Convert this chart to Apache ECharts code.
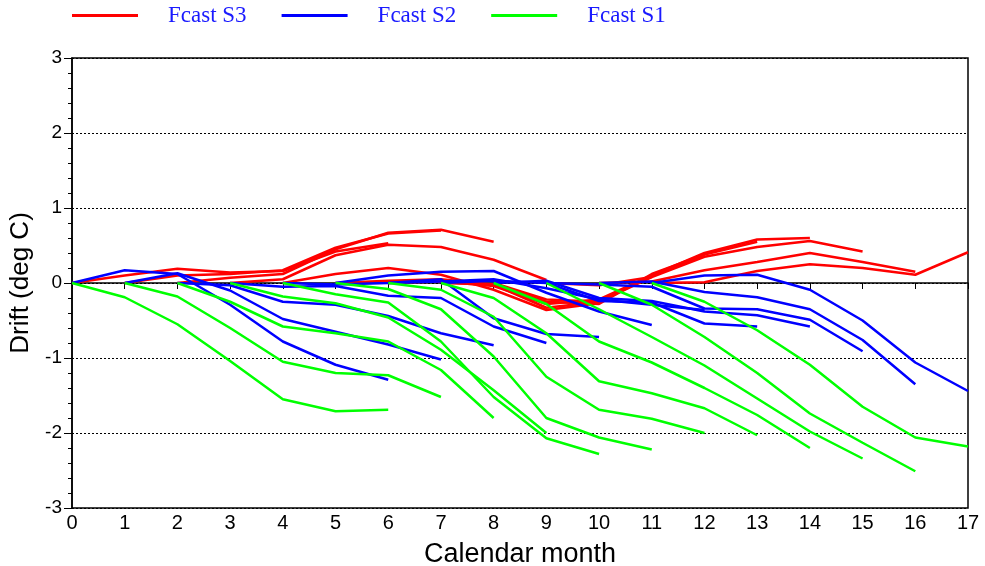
<!DOCTYPE html>
<html>
<head>
<meta charset="utf-8">
<script src="https://cdn.jsdelivr.net/npm/echarts@6/dist/echarts.min.js"></script>
<style>
  html, body { margin: 0; padding: 0; background: #fff; }
  #chart { width: 985px; height: 566px; }
</style>
</head>
<body>
<div id="chart"></div>
<script>
// Forecast start month of each run (each run covers 7 monthly points, lead 0..6)
const startMonths = [0, 1, 2, 3, 4, 5, 6, 7, 8, 9, 10, 11];

// Drift (deg C) by lead month for each forecast system
const driftS3 = [
  [0, 0.10, 0.19, 0.14, 0.16, 0.42, 0.53],
  [0, 0.10, 0.12, 0.17, 0.47, 0.66, 0.70],
  [0, 0.07, 0.12, 0.45, 0.67, 0.71, 0.55],
  [0, 0.05, 0.37, 0.51, 0.48, 0.31, 0.04],
  [0, 0.12, 0.20, 0.11, -0.09, -0.36, -0.27],
  [0, 0.03, 0.05, -0.02, -0.33, -0.25, 0.08],
  [0, 0.02, -0.04, -0.28, -0.22, 0.10, 0.38],
  [0, -0.02, -0.25, -0.28, 0.12, 0.38, 0.55],
  [0, -0.22, -0.25, 0.10, 0.40, 0.58, 0.60],
  [0, -0.03, 0.08, 0.35, 0.48, 0.56, 0.42],
  [0, 0.02, 0.17, 0.28, 0.40, 0.28, 0.15],
  [0, 0.01, 0.16, 0.25, 0.20, 0.11, 0.41]
];
const driftS2 = [
  [0, 0.17, 0.12, -0.29, -0.78, -1.09, -1.29],
  [0, 0.13, -0.10, -0.48, -0.65, -0.82, -1.02],
  [0, -0.03, -0.25, -0.29, -0.44, -0.67, -0.83],
  [0, -0.05, -0.04, -0.17, -0.20, -0.58, -0.80],
  [0, -0.02, 0.00, 0.05, -0.47, -0.68, -0.72],
  [0, 0.10, 0.15, 0.16, -0.13, -0.38, -0.56],
  [0, 0.02, 0.05, -0.07, -0.22, -0.29, -0.36],
  [0, 0.03, 0.00, -0.24, -0.26, -0.54, -0.58],
  [0, 0.03, -0.20, -0.24, -0.38, -0.43, -0.58],
  [0, -0.02, -0.05, -0.34, -0.35, -0.49, -0.91],
  [0, 0.02, -0.12, -0.19, -0.35, -0.76, -1.35],
  [0, 0.10, 0.11, -0.09, -0.50, -1.06, -1.44]
];
const driftS1 = [
  [0, -0.19, -0.55, -1.04, -1.55, -1.71, -1.69],
  [0, -0.18, -0.60, -1.05, -1.20, -1.23, -1.52],
  [0, -0.25, -0.58, -0.67, -0.78, -1.16, -1.80],
  [0, -0.18, -0.27, -0.46, -0.89, -1.43, -2.00],
  [0, -0.15, -0.26, -0.78, -1.52, -2.07, -2.28],
  [0, -0.08, -0.35, -0.98, -1.80, -2.06, -2.22],
  [0, -0.09, -0.45, -1.25, -1.69, -1.81, -2.00],
  [0, -0.20, -0.67, -1.31, -1.47, -1.67, -2.03],
  [0, -0.28, -0.78, -1.06, -1.40, -1.76, -2.20],
  [0, -0.35, -0.72, -1.10, -1.54, -1.98, -2.34],
  [0, -0.29, -0.72, -1.20, -1.74, -2.13, -2.51],
  [0, -0.25, -0.63, -1.09, -1.65, -2.06, -2.18]
];

const systems = [
  { name: 'Fcast S3', color: '#ff0000', drift: driftS3 },
  { name: 'Fcast S2', color: '#0000ff', drift: driftS2 },
  { name: 'Fcast S1', color: '#00ff00', drift: driftS1 }
];

const series = [];
systems.forEach((sys, si) => {
  sys.drift.forEach((run, ri) => {
    series.push({
      type: 'line',
      name: sys.name,
      data: run.map((v, k) => [startMonths[ri] + k, v]),
      showSymbol: false,
      symbol: 'none',
      silent: true,
      z: 2 + si,
      lineStyle: { color: sys.color, width: 2.5 },
      itemStyle: { color: sys.color }
    });
  });
});

const chart = echarts.init(document.getElementById('chart'), null, { renderer: 'canvas' });
chart.setOption({
  animation: false,
  backgroundColor: '#ffffff',
  legend: {
    data: systems.map(s => s.name),
    left: 72,
    top: 4,
    padding: 0,
    itemWidth: 66,
    itemHeight: 3,
    itemGap: 35,
    icon: 'rect',
    selectedMode: false,
    textStyle: {
      fontFamily: '"Liberation Serif", "Times New Roman", serif',
      fontSize: 23,
      color: '#1a1aff',
      padding: [0, 0, 0, 25]
    }
  },
  grid: {
    left: 72, right: 17, top: 58, bottom: 58,
    outerBoundsMode: 'none',
    show: true, borderColor: '#000', borderWidth: 1.5, backgroundColor: 'transparent'
  },
  xAxis: {
    type: 'value',
    min: 0,
    max: 17,
    interval: 1,
    name: 'Calendar month',
    nameLocation: 'middle',
    nameGap: 33,
    nameTextStyle: { fontFamily: '"Liberation Sans Narrow", "Liberation Sans", Arial, sans-serif', fontSize: 27, color: '#000' },
    axisLine: { lineStyle: { color: '#000', width: 1.5 } },
    axisTick: { show: true, inside: false, length: 6, lineStyle: { color: '#000' } },
    axisLabel: { margin: 5, fontFamily: '"Liberation Sans Narrow", "Liberation Sans", Arial, sans-serif', fontSize: 20, color: '#000' },
    splitLine: { show: false }
  },
  yAxis: {
    type: 'value',
    min: -3,
    max: 3,
    interval: 1,
    name: 'Drift (deg C)',
    nameLocation: 'middle',
    nameGap: 26,
    nameTextStyle: { fontFamily: '"Liberation Sans", Arial, sans-serif', fontSize: 26, color: '#000' },
    axisLine: { lineStyle: { color: '#000', width: 1.5 } },
    axisTick: { show: true, inside: false, length: 8, lineStyle: { color: '#000' } },
    minorTick: { show: true, splitNumber: 5, length: 4, lineStyle: { color: '#000' } },
    axisLabel: { margin: 10, fontFamily: '"Liberation Sans", Arial, sans-serif', fontSize: 19, color: '#000' },
    splitLine: { show: true, lineStyle: { color: '#000', width: 1, type: [2, 2] } }
  },
  series: series
});
</script>
</body>
</html>
